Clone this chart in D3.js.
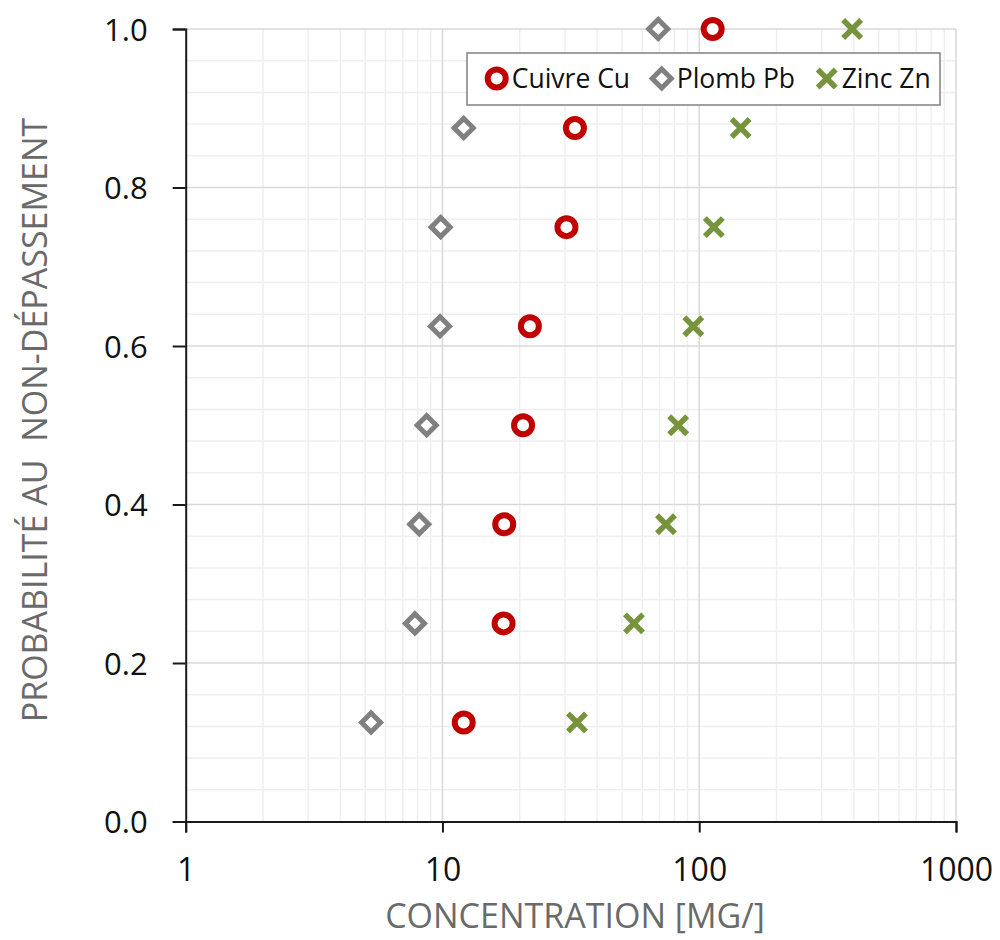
<!DOCTYPE html>
<html>
<head>
<meta charset="utf-8">
<script src="https://cdn.jsdelivr.net/npm/d3@7"></script>
<style>
  html, body { margin: 0; padding: 0; background: #fff; }
  svg { display: block; }
  text { font-family: "Open Sans", "Noto Sans", sans-serif; }
</style>
</head>
<body>
<svg id="chart" width="1000" height="940"></svg>
<script>
// ---- data ----
const probabilities = [0.125, 0.25, 0.375, 0.5, 0.625, 0.75, 0.875, 1.0];
const cuivre = [12.1, 17.3, 17.4, 20.6, 21.9, 30.4, 32.8, 112.8];
const plomb  = [5.27, 7.81, 8.12, 8.68, 9.78, 9.84, 12.1, 69.2];
const zinc   = [33.4, 55.7, 74.2, 82.8, 94.8, 114, 145, 394];
const seriesNames = ["Cuivre Cu", "Plomb Pb", "Zinc Zn"];
const xTicks = [1, 10, 100, 1000];
const yTicks = [0.0, 0.2, 0.4, 0.6, 0.8, 1.0];
const xTitle = "CONCENTRATION [MG/]";
const yTitle = "PROBABILITÉ AU\u00A0\u00A0NON-DÉPASSEMENT";

// ---- layout ----
const svg = d3.select("#chart");
const pLeft = 185.7, pRight = 956, pTop = 29, pBottom = 821.5;

const x = d3.scaleLog().domain([1, 1000]).range([pLeft, pRight]);
const y = d3.scaleLinear().domain([0, 1]).range([pBottom, pTop]);

// minor grid
const xMinor = [];
for (let k = 0; k < 3; k++) for (let m = 2; m <= 9; m++) xMinor.push(m * Math.pow(10, k));
const yMinor = d3.range(0, 25).map(i => i * 0.04).filter(v => Math.abs(v * 5 - Math.round(v * 5)) > 1e-6);

const g = svg.append("g");
g.selectAll("line.xminor").data(xMinor).enter().append("line")
  .attr("x1", d => x(d)).attr("x2", d => x(d)).attr("y1", pTop).attr("y2", pBottom)
  .attr("stroke", "#efefef").attr("stroke-width", 1.5);
g.selectAll("line.yminor").data(yMinor).enter().append("line")
  .attr("x1", pLeft).attr("x2", pRight).attr("y1", d => y(d)).attr("y2", d => y(d))
  .attr("stroke", "#efefef").attr("stroke-width", 1.5);
// major grid
g.selectAll("line.xmajor").data(xTicks.slice(1)).enter().append("line")
  .attr("x1", d => x(d)).attr("x2", d => x(d)).attr("y1", pTop).attr("y2", pBottom)
  .attr("stroke", "#d9d9d9").attr("stroke-width", 1.5);
g.selectAll("line.ymajor").data(yTicks.slice(1)).enter().append("line")
  .attr("x1", pLeft).attr("x2", pRight).attr("y1", d => y(d)).attr("y2", d => y(d))
  .attr("stroke", "#d9d9d9").attr("stroke-width", 1.5);

// axes
const xAxis = d3.axisBottom(x).tickValues(xTicks).tickFormat(d3.format("d")).tickSizeOuter(0).tickSize(11).tickPadding(26);
const yAxis = d3.axisLeft(y).tickValues(yTicks).tickFormat(d3.format(".1f")).tickSizeOuter(0).tickSize(13).tickPadding(25);

const gx = svg.append("g").attr("transform", `translate(0,${pBottom})`).call(xAxis);
const gy = svg.append("g").attr("transform", `translate(${pLeft},0)`).call(yAxis);
[gx, gy].forEach(a => {
  a.select(".domain").attr("stroke", "#1a1a1a").attr("stroke-width", 2);
  a.selectAll(".tick line").attr("stroke", "#1a1a1a").attr("stroke-width", 2);
  a.selectAll(".tick text").attr("fill", "#111")
    .style("font-family", "'Open Sans', 'Noto Sans', sans-serif");
});
gx.selectAll(".tick text").style("font-size", "32px");
gy.selectAll(".tick text").style("font-size", "31px").attr("dy", "0.36em");

// axis titles
svg.append("text").attr("x", 575).attr("y", 928)
  .attr("text-anchor", "middle").attr("fill", "#6a6a6a").style("font-size", "34px").text(xTitle);
svg.append("text").attr("transform", `translate(47,420) rotate(-90)`)
  .attr("text-anchor", "middle").attr("fill", "#6a6a6a").style("font-size", "34px").text(yTitle);

// markers
const red = "#c00000", grey = "#808080", green = "#77933c";
function drawCircle(sel) {
  sel.append("circle").attr("r", 9).attr("fill", "#fff").attr("stroke", red).attr("stroke-width", 6);
}
function drawDiamond(sel) {
  sel.append("path").attr("d", "M0,-9.5L9.5,0L0,9.5L-9.5,0Z").attr("fill", "#fff")
    .attr("stroke", grey).attr("stroke-width", 5).attr("stroke-linejoin", "miter");
}
function drawCross(sel) {
  sel.append("path").attr("d", "M-9,-9L9,9M-9,9L9,-9").attr("fill", "none")
    .attr("stroke", green).attr("stroke-width", 5.5).attr("stroke-linecap", "butt");
}
const series = [
  { values: cuivre, draw: drawCircle },
  { values: plomb, draw: drawDiamond },
  { values: zinc, draw: drawCross }
];
series.forEach(s => {
  s.values.forEach((v, i) => {
    const m = svg.append("g").attr("transform", `translate(${x(v)},${y(probabilities[i])})`);
    s.draw(m);
  });
});

// legend
const lg = svg.append("g");
lg.append("rect").attr("x", 467).attr("y", 53).attr("width", 473).attr("height", 52)
  .attr("fill", "#fff").attr("stroke", "#808080").attr("stroke-width", 1.5);
const legendX = [496.7, 661.7, 826.7];
series.forEach((s, i) => {
  const m = lg.append("g").attr("transform", `translate(${legendX[i]},78.5)`);
  s.draw(m);
  lg.append("text").attr("x", legendX[i] + 15).attr("y", 78.5).attr("dy", "0.36em")
    .attr("fill", "#111").style("font-size", "26.5px").text(seriesNames[i]);
});
</script>
</body>
</html>
